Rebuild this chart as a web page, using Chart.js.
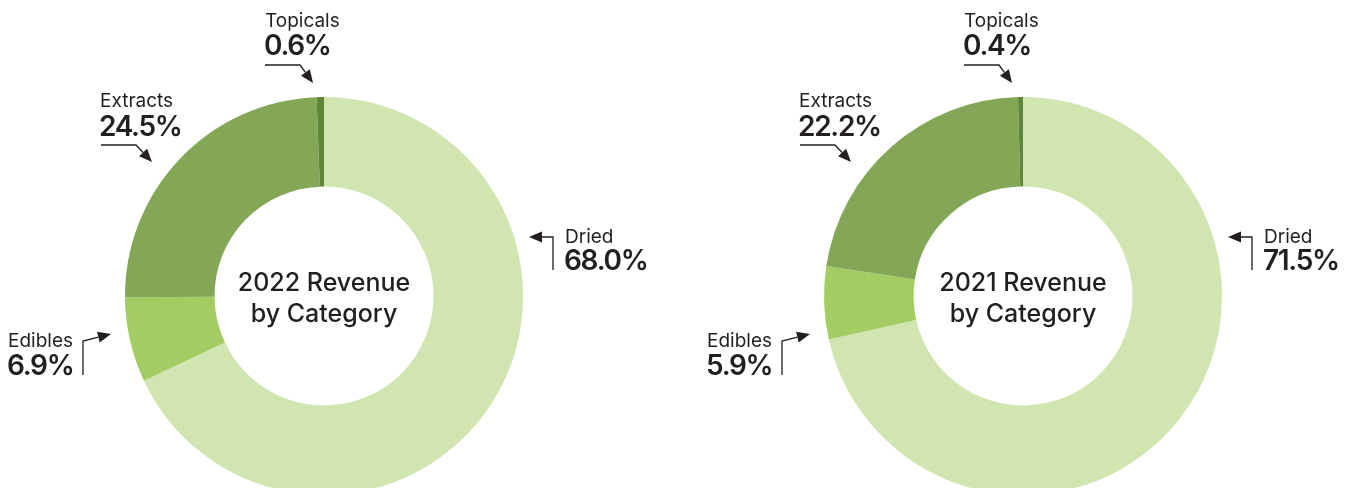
<!DOCTYPE html>
<html>
<head>
<meta charset="utf-8">
<script src="https://cdn.jsdelivr.net/npm/chart.js@4.4.1/dist/chart.umd.min.js"></script>
<style>
  html, body { margin: 0; padding: 0; background: #ffffff; }
  body { width: 1346px; height: 488px; overflow: hidden; position: relative; }
  canvas { position: absolute; top: 0; }
</style>
</head>
<body>
<canvas id="c2022" width="672" height="600" style="left:-12px"></canvas>
<canvas id="c2021" width="672" height="600" style="left:687px"></canvas>
<script>
// ---- data ----
const categories = ['Dried', 'Edibles', 'Extracts', 'Topicals'];
const values2022 = [68.0, 6.9, 24.5, 0.6];
const values2021 = [71.5, 5.9, 22.2, 0.4];
const centerTitle2022 = ['2022 Revenue', 'by Category'];
const centerTitle2021 = ['2021 Revenue', 'by Category'];
const sliceColors = ['#d1e5b1', '#a3cd62', '#84a757', '#5f8638'];

const TEXT = '#231f20';
const FONT = 'Inter, "Open Sans", sans-serif';

// callout layout (offsets from chart centre, px)
const callouts = {
  Dried:    { tx: 241, ny: -53, py: -26, path: [[229, -26], [229, -59], [205, -59]] },
  Edibles:  { tx: -316, ny: 51, py: 79, path: [[-241, 79], [-241, 45], [-213, 38]] },
  Extracts: { tx: -224, ny: -189, py: -160, path: [[-223, -151], [-188, -151], [-172, -134]] },
  Topicals: { tx: -59, ny: -269, py: -241, path: [[-59, -231], [-24, -231], [-11, -213]] }
};

const calloutPlugin = {
  id: 'callouts',
  afterDraw(chart, args, opts) {
    const ctx = chart.ctx;
    const arc = chart.getDatasetMeta(0).data[0];
    const cx = arc.x, cy = arc.y;
    const vals = chart.data.datasets[0].data;
    ctx.save();
    // centre title
    ctx.fillStyle = TEXT;
    ctx.textAlign = 'center';
    ctx.textBaseline = 'alphabetic';
    ctx.font = '500 25px ' + FONT;
    ctx.letterSpacing = '0px';
    ctx.fillText(opts.title[0], cx, cy - 5);
    ctx.fillText(opts.title[1], cx, cy + 26);
    // callouts
    chart.data.labels.forEach((lab, i) => {
      const c = callouts[lab];
      ctx.textAlign = 'left';
      ctx.fillStyle = TEXT;
      ctx.font = '400 19px ' + FONT;
      ctx.letterSpacing = '0px';
      ctx.fillText(lab, cx + c.tx, cy + c.ny);
      ctx.font = '600 28px ' + FONT;
      ctx.letterSpacing = '-1.3px';
      ctx.fillText(vals[i].toFixed(1) + '%', cx + c.tx - 1, cy + c.py);
      ctx.letterSpacing = '0px';
      // arrow line
      const p = c.path;
      ctx.strokeStyle = TEXT;
      ctx.lineWidth = 1.3;
      ctx.beginPath();
      ctx.moveTo(cx + p[0][0], cy + p[0][1]);
      ctx.lineTo(cx + p[1][0], cy + p[1][1]);
      const ex = p[2][0] - p[1][0], ey = p[2][1] - p[1][1];
      const len = Math.hypot(ex, ey);
      const ux = ex / len, uy = ey / len;
      const headL = 13, headW = 5.5;
      const bx = cx + p[2][0] - ux * headL, by = cy + p[2][1] - uy * headL;
      ctx.lineTo(bx, by);
      ctx.stroke();
      ctx.fillStyle = TEXT;
      ctx.beginPath();
      ctx.moveTo(cx + p[2][0], cy + p[2][1]);
      ctx.lineTo(bx - uy * headW, by + ux * headW);
      ctx.lineTo(bx + uy * headW, by - ux * headW);
      ctx.closePath();
      ctx.fill();
    });
    ctx.restore();
  }
};

function makeChart(id, values, title) {
  return new Chart(document.getElementById(id), {
    type: 'doughnut',
    data: {
      labels: categories,
      datasets: [{
        data: values,
        backgroundColor: sliceColors,
        borderWidth: 0,
        hoverOffset: 0
      }]
    },
    options: {
      responsive: false,
      animation: false,
      cutout: '55%',
      layout: { padding: { left: 137, right: 137, top: 97, bottom: 105 } },
      plugins: {
        legend: { display: false },
        tooltip: { enabled: false },
        callouts: { title: title }
      }
    },
    plugins: [calloutPlugin]
  });
}

makeChart('c2022', values2022, centerTitle2022);
makeChart('c2021', values2021, centerTitle2021);
</script>
</body>
</html>
